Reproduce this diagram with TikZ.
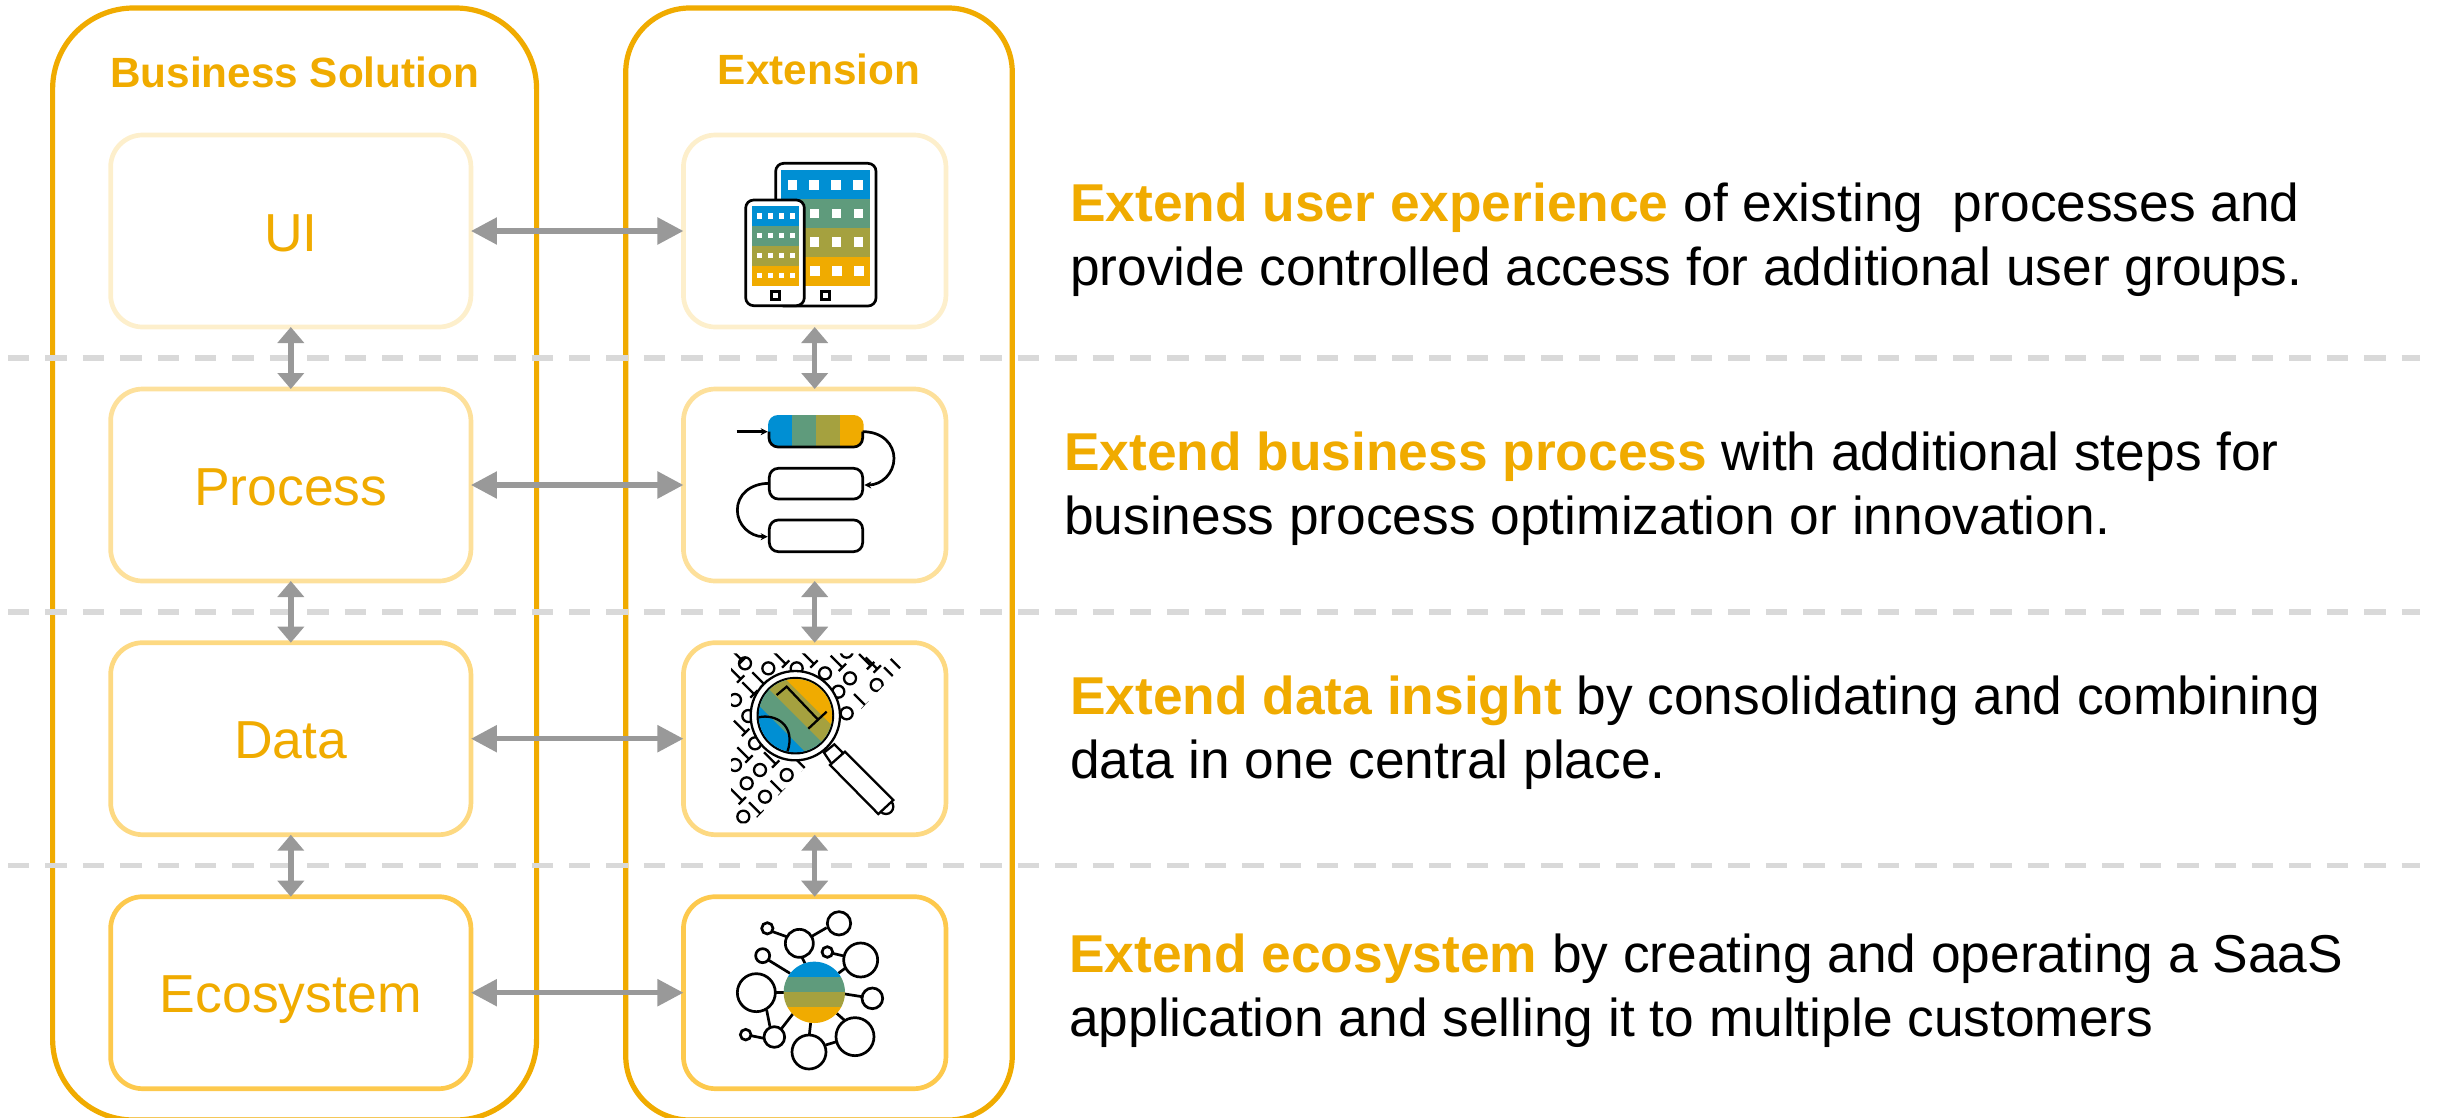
\documentclass[tikz,border=0pt]{standalone}
\usepackage{fontspec}
\setmainfont{Liberation Sans}
\usetikzlibrary{arrows.meta}
\definecolor{sapor}{HTML}{F0AB00}
\definecolor{sapbl}{HTML}{008FD3}
\definecolor{sapgr}{HTML}{5F9B7C}
\definecolor{sapol}{HTML}{A5A13F}
\definecolor{rowa}{HTML}{FDEFCC}
\definecolor{rowb}{HTML}{FDE09B}
\definecolor{rowc}{HTML}{FDD982}
\definecolor{rowd}{HTML}{FDC94D}
\definecolor{arrowgray}{HTML}{999999}
\definecolor{dashgray}{HTML}{D9D9D9}
\tikzset{
  outerbox/.style={draw=sapor,line width=5.2pt,rectangle,inner sep=0pt,outer sep=0pt},
  bizbox/.style={rectangle,rounded corners=32pt,line width=4.7pt,inner sep=0pt,outer sep=0pt,
    minimum width=360.3pt,minimum height=192pt,text=sapor,text height=40.5pt,text depth=0pt,
    font=\fontsize{53.5}{60}\selectfont},
  extbox/.style={rectangle,rounded corners=32pt,line width=4.7pt,inner sep=0pt,outer sep=0pt,
    minimum width=262.5pt,minimum height=192pt},
  header/.style={anchor=base,inner sep=0pt,text=sapor,font=\fontsize{42.3}{48}\selectfont\bfseries},
  desc/.style={anchor=base west,inner sep=0pt,align=left,font=\fontsize{53.3}{64}\selectfont},
  hlink/.style={draw=arrowgray,line width=5.4pt,
    {Triangle[length=26pt,width=26pt]}-{Triangle[length=26pt,width=26pt]}},
  vlink/.style={draw=arrowgray,line width=5.4pt,
    {Triangle[length=16pt,width=26pt]}-{Triangle[length=16pt,width=26pt]}},
  sepline/.style={draw=dashgray,line width=5.6pt,dash pattern=on 21.4pt off 16pt},
  ink/.style={draw=black,line width=2.7pt},
  thinink/.style={draw=black,line width=2.3pt},
  zoomA/.style={shift={(680,130)},x=0.33333pt,y=-0.33333pt},
  zoomB/.style={shift={(680,630)},x=0.33333pt,y=-0.33333pt},
}
\newcommand{\hi}[1]{\textcolor{sapor}{\bfseries #1}}
\begin{document}
\begin{tikzpicture}[x=1pt,y=-1pt]
\useasboundingbox (0,0) rectangle (2439,1117);
% outer columns
\node[outerbox,rounded corners=81pt,minimum width=484pt,minimum height=1112pt] (bizcol) at (294.6,564) {};
\node[outerbox,rounded corners=64pt,minimum width=386.5pt,minimum height=1112pt] (extcol) at (819,564) {};
\node[header] (bizhead) at (294.6,87.7) {Business Solution};
\node[header] (exthead) at (819,84) {Extension};
% separators
\coordinate (s1a) at (8,358); \coordinate (s1b) at (2420,358);
\coordinate (s2a) at (8,612); \coordinate (s2b) at (2420,612);
\coordinate (s3a) at (8,865.5); \coordinate (s3b) at (2420,865.5);
\draw[sepline] (s1a) -- (s1b);
\draw[sepline] (s2a) -- (s2b);
\draw[sepline] (s3a) -- (s3b);
% business boxes
\node[bizbox,draw=rowa] (bui) at (290.8,231) {UI};
\node[bizbox,draw=rowb] (bpr) at (290.8,485) {Process};
\node[bizbox,draw=rowc] (bda) at (290.8,738.7) {Data};
\node[bizbox,draw=rowd] (bec) at (290.8,992.7) {Ecosystem};
% extension boxes
\node[extbox,draw=rowa] (eui) at (814.7,231) {};
\node[extbox,draw=rowb] (epr) at (814.7,485) {};
\node[extbox,draw=rowc] (eda) at (814.7,738.7) {};
\node[extbox,draw=rowd] (eec) at (814.7,992.7) {};
% links
\draw[hlink] (bui.east) -- (eui.west);
\draw[hlink] (bpr.east) -- (epr.west);
\draw[hlink] (bda.east) -- (eda.west);
\draw[hlink] (bec.east) -- (eec.west);
\draw[vlink] (bui.south) -- (bpr.north);
\draw[vlink] (bpr.south) -- (bda.north);
\draw[vlink] (bda.south) -- (bec.north);
\draw[vlink] (eui.south) -- (epr.north);
\draw[vlink] (epr.south) -- (eda.north);
\draw[vlink] (eda.south) -- (eec.north);
% descriptions
\node[desc] (d1) at (1070,285) {\hi{Extend user experience} of existing\ \ processes and\\provide controlled access for additional user groups.};
\node[desc] (d2) at (1064,534) {\hi{Extend business process} with additional steps for\\business process optimization or innovation.};
\node[desc] (d3) at (1070,778.5) {\hi{Extend data insight} by consolidating and combining\\data in one central place.};
\node[desc] (d4) at (1069,1036) {\hi{Extend ecosystem} by creating and operating a SaaS\\application and selling it to multiple customers};
% tablet icon
\begin{scope}[zoomA]
\draw[ink,fill=white,rounded corners=8pt] (287,100) rectangle (588,528);
\fill[sapbl] (303,120) rectangle (570,207);
\fill[sapgr] (303,207) rectangle (570,293);
\fill[sapol] (303,293) rectangle (570,380);
\fill[sapor] (303,380) rectangle (570,468);
\foreach \px/\py in {337/165,402/165,468/165,534/165,404/250,470/250,535/250,404/336,470/336,536/336,405/423,471/423,537/423}
  \fill[white] (\px-14,\py-14) rectangle (\px+14,\py+14);
\draw[ink] (425,485) rectangle (449,509);
\draw[ink,fill=white,rounded corners=8pt] (197,210) rectangle (373,527);
\fill[sapbl] (216,228) rectangle (357,288);
\fill[sapgr] (216,288) rectangle (357,348);
\fill[sapol] (216,348) rectangle (357,408);
\fill[sapor] (216,408) rectangle (357,468);
\foreach \py in {258,317,377,436}
  \foreach \px in {238,271,304,337}
    \fill[white] (\px-8,\py-8) rectangle (\px+8,\py+8);
\draw[ink] (274,485) rectangle (298,509);
% process icon
\begin{scope}
\clip[rounded corners=10pt] (264,855) rectangle (551,952);
\fill[sapbl] (264,855) rectangle (336,952);
\fill[sapgr] (336,855) rectangle (408,952);
\fill[sapol] (408,855) rectangle (480,952);
\fill[sapor] (480,855) rectangle (551,952);
\end{scope}
\draw[ink,rounded corners=9pt] (267,905) -- (267,951) -- (548,951) -- (548,905);
\draw[ink,rounded corners=9pt] (268,1015) rectangle (548,1107);
\draw[ink,rounded corners=9pt] (268,1170) rectangle (548,1265);
\draw[ink,-{Stealth[length=7pt,width=7pt]}] (170,905) -- (263,905);
\draw[ink,-{Stealth[length=7pt,width=7pt]}] (548,905) .. controls (610,905) and (642,945) .. (642,985) .. controls (642,1030) and (605,1065) .. (553,1065);
\draw[ink,-{Stealth[length=7pt,width=7pt]}] (268,1060) .. controls (210,1060) and (172,1095) .. (172,1140) .. controls (172,1185) and (210,1220) .. (263,1220);
\end{scope}
% data icon
\begin{scope}[zoomB]
\begin{scope}
\clip (153,70) -- (665,70) -- (665,110) -- (215,580) -- (153,580) -- cycle;
\foreach \px/\py in {195/100,265/115,350/115,435/130,510/145,475/185,500/250,590/165,165/210,205/258,225/340,165/405,240/420,200/460,255/500,320/435,190/560,500/65}
  \draw[thinink] (\px,\py) circle[radius=18];
\foreach \px/\py in {165/130,205/175,235/145,300/85,385/85,470/95,555/90,575/100,540/210,630/130,650/105,180/290,190/370,270/385,170/495,225/535,290/470,360/400,170/75}
  \draw[thinink] (\px-18,\py-18) -- (\px+18,\py+18) (\px+6,\py+28) -- (\px+28,\py+6);
\end{scope}
\draw[thinink,fill=white] (432,368) -- (463,343) -- (490,370) -- (455,402) -- cycle;
\draw[thinink,fill=white] (618,530) circle[radius=22];
\draw[thinink,fill=white] (450,405) -- (495,365) -- (640,510) -- (595,552) -- cycle;
\draw[thinink,fill=white] (346,257) circle[radius=134];
\draw[thinink] (346,257) circle[radius=113];
\begin{scope}
\clip (346,257) circle[radius=110];
\fill[sapbl] (200,100) rectangle (500,420);
\fill[sapgr] (180,170) -- (480,470) -- (600,470) -- (600,100) -- (180,100) -- cycle;
\fill[sapol] (180,90) -- (600,510) -- (700,510) -- (700,50) -- (180,50) -- cycle;
\fill[sapor] (180,10) -- (600,430) -- (700,430) -- (700,10) -- cycle;
\draw[thinink] (236,262) .. controls (285,250) and (350,285) .. (322,366);
\draw[thinink] (290,195) -- (320,170) -- (415,270);
\draw[thinink] (385,296) -- (440,245);
\end{scope}
% network icon
\foreach \ax/\ay/\bx/\by in {278/905/320/920,397/918/440/893,365/980/375/1000,265/990/330/1030,458/970/492/978,475/1030/495/1015,286/1088/315/1088,495/1092/546/1100,260/1140/270/1190,305/1195/340/1150,213/1217/252/1225,392/1178/388/1215,470/1150/495/1172,437/1245/470/1235}
  \draw[ink] (\ax,\ay) -- (\bx,\by);
\foreach \px/\py/\pr in {477/880/35,358/940/42,262/895/17,248/977/21,442/966/16,542/990/51,229/1088/57,577/1105/31,283/1221/31,197/1214/16,387/1266/51,525/1220/57}
  \draw[ink] (\px,\py) circle[radius=\pr];
\begin{scope}
\clip (403,1087) circle[radius=92];
\fill[sapbl] (300,990) rectangle (510,1041);
\fill[sapgr] (300,1041) rectangle (510,1087);
\fill[sapol] (300,1087) rectangle (510,1132);
\fill[sapor] (300,1132) rectangle (510,1185);
\end{scope}
\end{scope}
\end{tikzpicture}
\end{document}
